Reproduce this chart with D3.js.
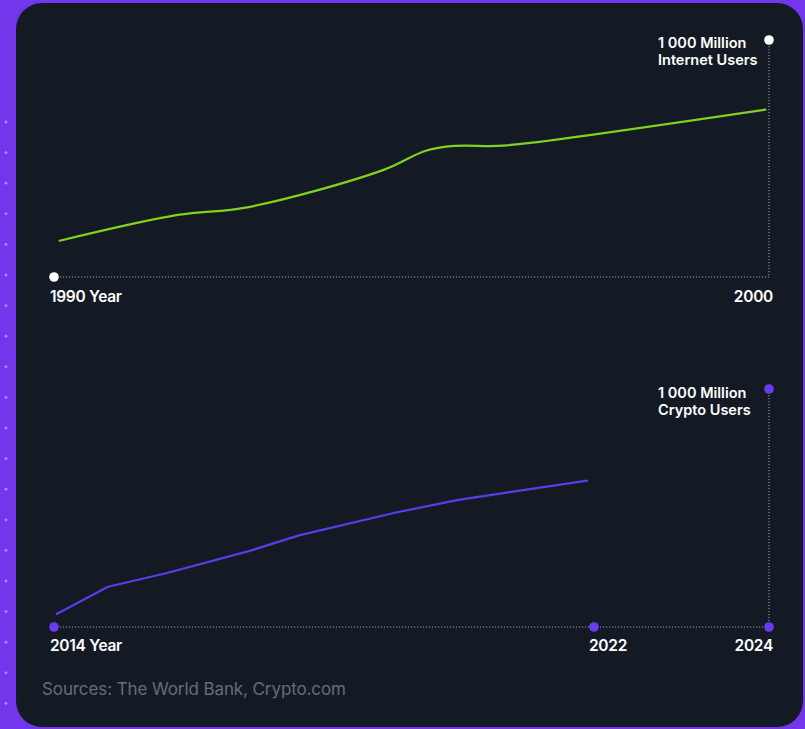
<!DOCTYPE html>
<html>
<head>
<meta charset="utf-8">
<script src="https://cdn.jsdelivr.net/npm/d3@7"></script>
<style>
  html, body { margin: 0; padding: 0; background: #7336ea; }
  svg { display: block; }
</style>
</head>
<body>
<svg id="chart" width="805" height="729"></svg>
<script>
// ---- Data ----
const internetYears  = [1990.08, 1991.73, 1992.7, 1994.6, 1995.2, 1995.6, 1996.2, 1996.7, 1999.95];
const internetValues = [153, 262, 294, 451, 533, 553, 553, 567, 706];

const cryptoYears  = [2014.04, 2014.8, 2015.66, 2016.9, 2017.63, 2019.05, 2019.99, 2021.9];
const cryptoValues = [55, 169, 226, 320, 385, 480, 534, 615];

const internetTicks = ["1990 Year", "2000"];
const cryptoTicks   = ["2014 Year", "2022", "2024"];
const maxLabel1 = ["1 000 Million", "Internet Users"];
const maxLabel2 = ["1 000 Million", "Crypto Users"];
const sourceText = "Sources: The World Bank, Crypto.com";

// ---- Drawing ----
const svg = d3.select("#chart");

// background dots on purple
const dotYs = d3.range(0, 24).map(i => 122 + i * 30.6);
svg.selectAll("circle.bgdot").data(dotYs).enter().append("circle")
  .attr("cx", 6).attr("cy", d => d).attr("r", 1.4)
  .attr("fill", "#c2adf7").attr("opacity", 0.75);

// card
svg.append("rect")
  .attr("x", 16).attr("y", 3).attr("width", 787).attr("height", 724)
  .attr("rx", 26).attr("ry", 26)
  .attr("fill", "#141a24");

const font = "Inter, 'Noto Sans', sans-serif";
const tickSize = 15.5;
const labelSize = 14.5;

// ---------- Top chart ----------
const x1 = d3.scaleLinear().domain([1990, 2000]).range([54, 769]);
const y1 = d3.scaleLinear().domain([0, 1000]).range([277, 40]);

const g1 = svg.append("g");
g1.append("line")
  .attr("x1", x1(1990)).attr("x2", x1(2000))
  .attr("y1", y1(0)).attr("y2", y1(0))
  .attr("stroke", "#9aa0aa").attr("stroke-width", 1).attr("stroke-dasharray", "1.2,1.8");
g1.append("line")
  .attr("x1", x1(2000)).attr("x2", x1(2000))
  .attr("y1", y1(1000)).attr("y2", y1(0))
  .attr("stroke", "#9aa0aa").attr("stroke-width", 1).attr("stroke-dasharray", "1.2,1.8");

const line1 = d3.line().x(d => x1(d[0])).y(d => y1(d[1])).curve(d3.curveCatmullRom.alpha(0.5));
g1.append("path")
  .datum(d3.zip(internetYears, internetValues))
  .attr("d", line1)
  .attr("fill", "none").attr("stroke", "#80d21c").attr("stroke-width", 2.2)
  .attr("stroke-linecap", "round").attr("stroke-linejoin", "round");

g1.selectAll("circle.pt").data([[1990, 0], [2000, 1000]]).enter().append("circle")
  .attr("cx", d => x1(d[0])).attr("cy", d => y1(d[1])).attr("r", 4.8)
  .attr("fill", "#ffffff");

g1.append("text").text(internetTicks[0])
  .attr("x", 50).attr("y", 302)
  .attr("fill", "#ffffff").attr("font-family", font).attr("font-weight", 600)
  .attr("font-size", tickSize).attr("letter-spacing", -0.3);
g1.append("text").text(internetTicks[1])
  .attr("x", 773).attr("y", 302).attr("text-anchor", "end")
  .attr("fill", "#ffffff").attr("font-family", font).attr("font-weight", 600)
  .attr("font-size", tickSize).attr("letter-spacing", -0.3);

maxLabel1.forEach((t, i) => {
  g1.append("text").text(t)
    .attr("x", 658).attr("y", 47.5 + i * 17.5)
    .attr("fill", "#ffffff").attr("font-family", font).attr("font-weight", 600)
    .attr("font-size", labelSize).attr("letter-spacing", 0);
});

// ---------- Bottom chart ----------
const x2 = d3.scaleLinear().domain([2014, 2022, 2024]).range([54, 594, 769]);
const y2 = d3.scaleLinear().domain([0, 1000]).range([627, 389]);

const g2 = svg.append("g");
g2.append("line")
  .attr("x1", x2(2014)).attr("x2", x2(2024))
  .attr("y1", y2(0)).attr("y2", y2(0))
  .attr("stroke", "#9aa0aa").attr("stroke-width", 1).attr("stroke-dasharray", "1.2,1.8");
g2.append("line")
  .attr("x1", x2(2024)).attr("x2", x2(2024))
  .attr("y1", y2(1000)).attr("y2", y2(0))
  .attr("stroke", "#9aa0aa").attr("stroke-width", 1).attr("stroke-dasharray", "1.2,1.8");

const line2 = d3.line().x(d => x2(d[0])).y(d => y2(d[1])).curve(d3.curveLinear);
g2.append("path")
  .datum(d3.zip(cryptoYears, cryptoValues))
  .attr("d", line2)
  .attr("fill", "none").attr("stroke", "#5a3de6").attr("stroke-width", 2.2)
  .attr("stroke-linecap", "round").attr("stroke-linejoin", "round");

g2.selectAll("circle.pt").data([[2014, 0], [2022, 0], [2024, 0], [2024, 1000]]).enter().append("circle")
  .attr("cx", d => x2(d[0])).attr("cy", d => y2(d[1])).attr("r", 4.8)
  .attr("fill", "#6a3cf0");

g2.append("text").text(cryptoTicks[0])
  .attr("x", 50).attr("y", 651)
  .attr("fill", "#ffffff").attr("font-family", font).attr("font-weight", 600)
  .attr("font-size", tickSize).attr("letter-spacing", -0.3);
g2.append("text").text(cryptoTicks[1])
  .attr("x", 589).attr("y", 651)
  .attr("fill", "#ffffff").attr("font-family", font).attr("font-weight", 600)
  .attr("font-size", tickSize).attr("letter-spacing", -0.3);
g2.append("text").text(cryptoTicks[2])
  .attr("x", 773).attr("y", 651).attr("text-anchor", "end")
  .attr("fill", "#ffffff").attr("font-family", font).attr("font-weight", 600)
  .attr("font-size", tickSize).attr("letter-spacing", -0.3);

maxLabel2.forEach((t, i) => {
  g2.append("text").text(t)
    .attr("x", 658).attr("y", 397.5 + i * 17.5)
    .attr("fill", "#ffffff").attr("font-family", font).attr("font-weight", 600)
    .attr("font-size", labelSize).attr("letter-spacing", 0);
});

// source
svg.append("text").text(sourceText)
  .attr("x", 42).attr("y", 695)
  .attr("fill", "#676d77").attr("font-family", font).attr("font-weight", 400)
  .attr("font-size", 17).attr("letter-spacing", -0.1);
</script>
</body>
</html>
